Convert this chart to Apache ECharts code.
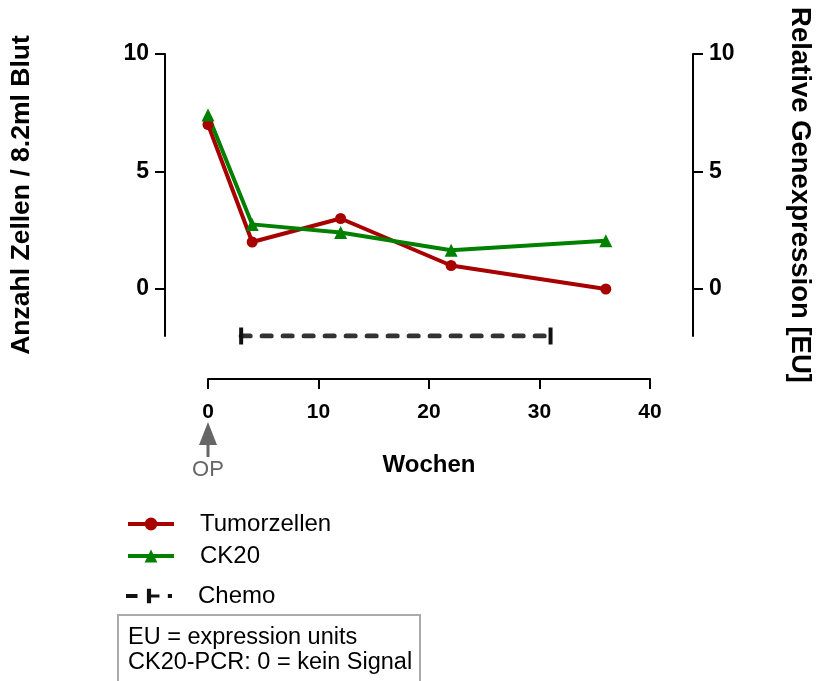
<!DOCTYPE html>
<html>
<head>
<meta charset="utf-8">
<script src="https://cdn.jsdelivr.net/npm/echarts@6/dist/echarts.min.js"></script>
<style>
  html, body { margin: 0; padding: 0; background: #fff; }
  #chart { width: 826px; height: 681px; }
</style>
</head>
<body>
<div id="chart"></div>
<script>
// data
const weeks = [0, 4, 12, 22, 36];
const tumorCells = [7, 2, 3, 1, 0];
const ck20 = [7.4, 2.75, 2.4, 1.65, 2.05];
const chemoWeeks = [3, 31];
const chemoLevel = -2;
const xTicks = [0, 10, 20, 30, 40];
const yTicks = [0, 5, 10];

const FONT = '"Liberation Sans", Arial, sans-serif';
const RED = '#a80000';
const GREEN = '#008000';

const chart = echarts.init(document.getElementById('chart'));

const yAxisBase = {
  type: 'value',
  min: -2,
  max: 10,
  offset: 43,
  nameLocation: 'middle',
  nameTextStyle: { fontFamily: FONT, fontWeight: 'bold', fontSize: 26.5, color: '#000' },
  axisLine: { show: true, onZero: false, lineStyle: { color: '#000', width: 2 } },
  axisTick: { show: true, length: 10, customValues: yTicks, lineStyle: { color: '#000', width: 2 } },
  axisLabel: { customValues: yTicks, fontFamily: FONT, fontWeight: 'bold', fontSize: 23, color: '#000', margin: 16 },
  splitLine: { show: false }
};

const legendBase = {
  orient: 'vertical',
  left: 126,
  padding: 0,
  itemWidth: 46,
  itemHeight: 16,
  lineStyle: { width: 4 },
  textStyle: { fontFamily: FONT, fontSize: 24, color: '#000', padding: [0, 0, 0, 21] }
};

// legend icon for Chemo: dash, capped bar, dot
const chemoIcon = 'path://M0 6L11 6L11 10L0 10Z M20 1L24 1L24 15L20 15Z M24 6.5L32 6.5L32 9.5L24 9.5Z M40 6L44 6L44 10L40 10Z';

const option = {
  animation: false,
  backgroundColor: '#fff',
  grid: { left: 207, right: 176, top: 54, bottom: 345 },
  xAxis: {
    type: 'value',
    min: 0,
    max: 40,
    interval: 10,
    offset: 43,
    name: 'Wochen',
    nameLocation: 'middle',
    nameGap: 74,
    nameTextStyle: { fontFamily: FONT, fontWeight: 'bold', fontSize: 24, color: '#000' },
    axisLine: { show: true, onZero: false, lineStyle: { color: '#000', width: 2 } },
    axisTick: { show: true, length: 10, lineStyle: { color: '#000', width: 2 } },
    axisLabel: { fontFamily: FONT, fontWeight: 'bold', fontSize: 21, color: '#000', margin: 23 },
    splitLine: { show: false }
  },
  yAxis: [
    Object.assign({}, yAxisBase, {
      position: 'left',
      name: 'Anzahl Zellen / 8.2ml Blut',
      nameRotate: 90,
      nameGap: 130
    }),
    Object.assign({}, yAxisBase, {
      position: 'right',
      name: 'Relative Genexpression [EU]',
      nameRotate: -90,
      nameGap: 93,
      nameTextStyle: { fontFamily: FONT, fontWeight: 'bold', fontSize: 27.5, color: '#000' }
    })
  ],
  legend: [
    Object.assign({}, legendBase, { top: 512, data: ['Tumorzellen'] }),
    Object.assign({}, legendBase, { top: 544, data: ['CK20'] }),
    Object.assign({}, legendBase, { top: 584, data: [{ name: 'Chemo', icon: chemoIcon }] })
  ],
  series: [
    {
      name: 'Chemo',
      type: 'line',
      data: chemoWeeks.map(w => [w, chemoLevel]),
      symbol: 'rect',
      symbolSize: [4, 17],
      itemStyle: { color: '#111' },
      lineStyle: { color: '#333', width: 5, type: [9, 12], cap: 'round' }
    },
    {
      name: 'Tumorzellen',
      type: 'line',
      data: weeks.map((w, i) => [w, tumorCells[i]]),
      symbol: 'circle',
      symbolSize: 11,
      itemStyle: { color: RED },
      lineStyle: { color: RED, width: 4 }
    },
    {
      name: 'CK20',
      type: 'line',
      yAxisIndex: 1,
      data: weeks.map((w, i) => [w, ck20[i]]),
      symbol: 'triangle',
      symbolSize: 13,
      itemStyle: { color: GREEN },
      lineStyle: { color: GREEN, width: 4 }
    }
  ]
};

chart.setOption(option);

// OP arrow under week 0, and the note box
const opX = chart.convertToPixel({ xAxisIndex: 0 }, 0);
chart.setOption({
  graphic: [
    {
      type: 'polygon',
      shape: { points: [[opX, 422], [opX - 9, 445], [opX + 9, 445]] },
      style: { fill: '#666' }
    },
    {
      type: 'rect',
      shape: { x: opX - 1.5, y: 444, width: 3, height: 13 },
      style: { fill: '#666' }
    },
    {
      type: 'text',
      x: opX,
      y: 470,
      style: { text: 'OP', fontFamily: FONT, fontSize: 22, fill: '#666', align: 'center', verticalAlign: 'middle' }
    },
    {
      type: 'rect',
      shape: { x: 118, y: 615, width: 302, height: 80 },
      style: { fill: '#fff', stroke: '#aaa', lineWidth: 2 }
    },
    {
      type: 'text',
      x: 128,
      y: 638,
      style: { text: 'EU = expression units', fontFamily: FONT, fontSize: 23.5, fill: '#000', verticalAlign: 'middle' }
    },
    {
      type: 'text',
      x: 128,
      y: 663,
      style: { text: 'CK20-PCR: 0 = kein Signal', fontFamily: FONT, fontSize: 23.5, fill: '#000', verticalAlign: 'middle' }
    }
  ]
});

window.addEventListener('resize', () => chart.resize());
</script>
</body>
</html>
